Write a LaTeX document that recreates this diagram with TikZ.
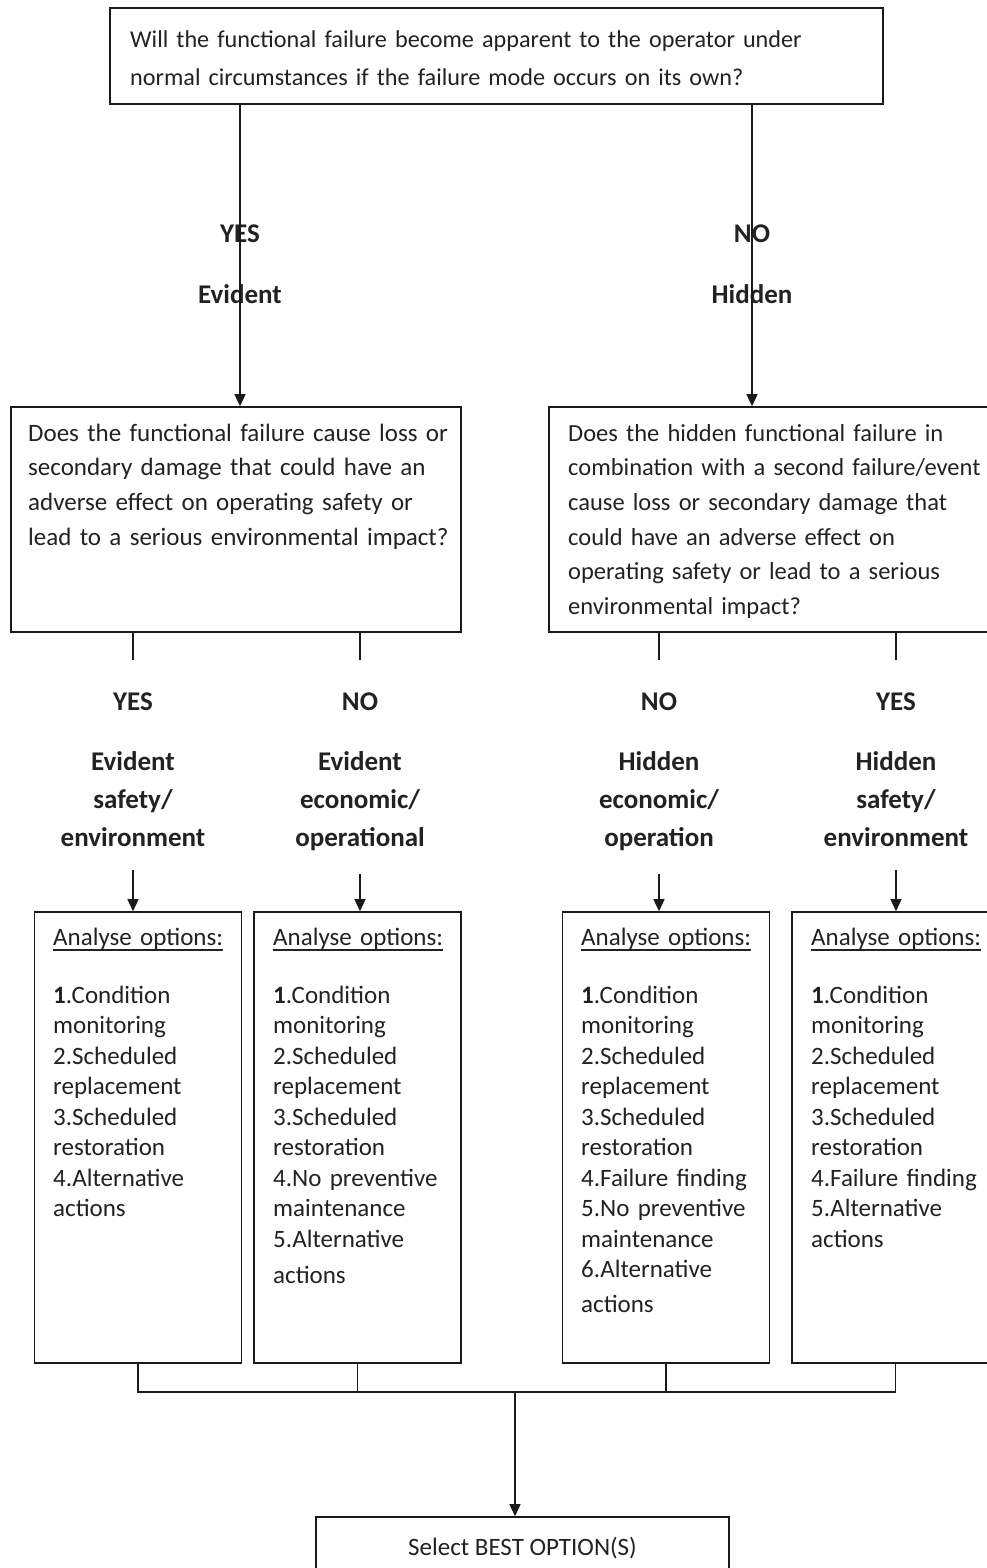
\documentclass[tikz,border=0pt]{standalone}
\usepackage{fontspec}
\setmainfont{Carlito}
\usepackage{tikz}
\usetikzlibrary{arrows.meta,positioning,calc}
\definecolor{inkgray}{HTML}{222222}
\definecolor{linedark}{HTML}{1A1A1A}
\newcommand{\headul}[1]{\setbox0\hbox{#1}\rlap{\rule[-5.75pt]{\wd0}{1.5pt}}\box0}
\tikzset{
  qbox/.style={draw=linedark, line width=1.6pt, inner sep=0pt},
  qtext/.style={anchor=base west, align=left, inner sep=0pt, text=inkgray, text width=#1},
  optbox/.style={qbox, minimum width=207pt, minimum height=451pt},
  opttext/.style={qtext=190pt, font=\fontsize{25}{30.5}\selectfont},
  branch/.style={anchor=base, align=center, inner sep=0pt, text=inkgray, text width=220pt, font=\bfseries\fontsize{27}{38}\selectfont},
  edge/.style={draw=linedark, line width=1.4pt},
  arrow/.style={edge, -{Triangle[length=12pt, width=11pt]}}
}

\begin{document}
\begin{tikzpicture}[x=1pt, y=-1pt]
  \useasboundingbox[fill=white] (0,0) rectangle (987,1568);

  % questions
  \node[qbox, minimum width=773pt, minimum height=96pt] (q1) at (496.5,56) {};
  \node[qtext=760pt, font=\fontsize{24.2}{38}\selectfont] (q1txt) at (130,48)
    {Will the functional failure become apparent to the operator under\\normal circumstances if the failure mode occurs on its own?};

  \node[qbox, minimum width=450pt, minimum height=225pt] (q2) at (236,519.5) {};
  \node[qtext=430pt, font=\fontsize{25}{34.7}\selectfont] (q2txt) at (28,441)
    {Does the functional failure cause loss or\\secondary damage that could have an\\adverse effect on operating safety or\\lead to a serious environmental impact?};

  \node[qbox, minimum width=450pt, minimum height=225pt] (q3) at (774,519.5) {};
  \node[qtext=460pt, font=\fontsize{24.5}{34.7}\selectfont] (q3txt) at (568,441)
    {Does the hidden functional failure in\\combination with a second failure/event\\cause loss or secondary damage that\\could have an adverse effect on\\operating safety or lead to a serious\\environmental impact?};

  \node[branch] (ev) at (240,242) {YES\\[23pt]Evident};
  \node[branch] (hid) at (752,242) {NO\\[23pt]Hidden};

  \draw[arrow] (q1.south -| ev) -- (q2.north -| ev);
  \draw[arrow] (q1.south -| hid) -- (q3.north -| hid);

  % consequence categories
  \node[branch] (br1) at (133,710) {YES\\[22pt]Evident\\safety/\\environment};
  \node[branch] (br2) at (360,710) {NO\\[22pt]Evident\\economic/\\operational};
  \node[branch] (br3) at (659,710) {NO\\[22pt]Hidden\\economic/\\operation};
  \node[branch] (br4) at (896,710) {YES\\[22pt]Hidden\\safety/\\environment};

  % options
  \node[optbox] (opt1) at (138,1137.5) {};
  \node[optbox] (opt2) at (357.5,1137.5) {};
  \node[optbox] (opt3) at (666,1137.5) {};
  \node[optbox] (opt4) at (895.5,1137.5) {};

  \node[opttext] (opt1txt) at (53,945)
    {\headul{Analyse options:}\\[27.5pt]\textbf{1}.Condition\\monitoring\\2.Scheduled\\replacement\\3.Scheduled\\restoration\\4.Alternative\\actions};
  \node[opttext] (opt2txt) at (273,945)
    {\headul{Analyse options:}\\[27.5pt]\textbf{1}.Condition\\monitoring\\2.Scheduled\\replacement\\3.Scheduled\\restoration\\4.No preventive\\maintenance\\5.Alternative\\[5.5pt]actions};
  \node[opttext] (opt3txt) at (581,945)
    {\headul{Analyse options:}\\[27.5pt]\textbf{1}.Condition\\monitoring\\2.Scheduled\\replacement\\3.Scheduled\\restoration\\4.Failure finding\\5.No preventive\\maintenance\\6.Alternative\\[4.5pt]actions};
  \node[opttext] (opt4txt) at (811,945)
    {\headul{Analyse options:}\\[27.5pt]\textbf{1}.Condition\\monitoring\\2.Scheduled\\replacement\\3.Scheduled\\restoration\\4.Failure finding\\5.Alternative\\actions};

  \foreach \q/\b in {q2/br1, q2/br2, q3/br3, q3/br4}
    \draw[edge, shorten >=32pt] (\q.south -| \b) -- (\b.north);
  \foreach \b/\o in {br1/opt1, br2/opt2, br3/opt3, br4/opt4}
    \draw[arrow, shorten <=24pt] (\b.south) -- (\o.north -| \b);

  % selection
  \coordinate (merge) at (515,1392);
  \node[qbox, minimum width=413pt, minimum height=62pt, text=inkgray, font=\fontsize{25}{30}\selectfont] (best) at (522.5,1548) {Select BEST OPTION(S)};

  \draw[edge] (opt1.south) |- (merge) -| (opt4.south);
  \draw[edge] (opt2.south) -- (opt2.south |- merge);
  \draw[edge] (opt3.south) -- (opt3.south |- merge);
  \draw[arrow] (merge) -- (best.north -| merge);
\end{tikzpicture}
\end{document}
